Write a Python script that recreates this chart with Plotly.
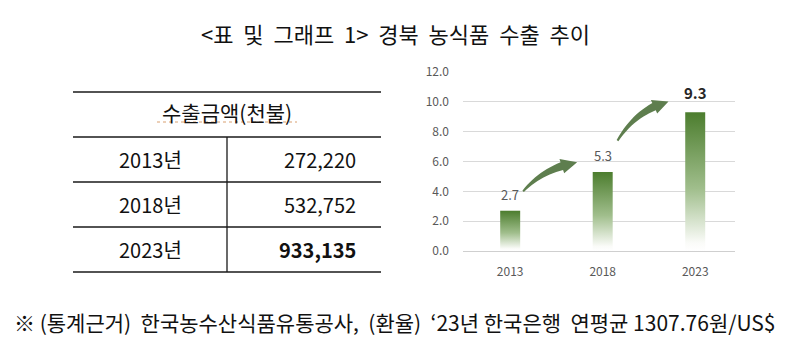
import plotly.graph_objects as go
import numpy as np

# ---------------- data ----------------
title_text = "<표  및  그래프  1>  경북  농식품  수출  추이"
table_header = "수출금액(천불)"
table_years = ["2013년", "2018년", "2023년"]
table_amounts = ["272,220", "532,752", "933,135"]
chart_years = ["2013", "2018", "2023"]
chart_values = [2.7, 5.3, 9.3]
y_ticks = [0, 2, 4, 6, 8, 10, 12]
footnote = "※ (통계근거)  한국농수산식품유통공사,  (환율)  ‘23년 한국은행  연평균 1307.76원/US$"

# ---------------- layout geometry ----------------
W, H = 807, 353
L, R, T, B = 463, 72, 72, 102
PW, PH = W - L - R, H - T - B
FONT = "Noto Sans CJK KR"


def px_x(px):
    return (px - L) / PW


def px_y(py):
    return (H - B - py) / PH


fig = go.Figure()
xpos = list(range(len(chart_years)))
half = 0.108
green_scale = [[0, "rgb(255,255,255)"], [0.06, "rgb(250,251,248)"],
               [0.45, "rgb(160,190,140)"], [1, "rgb(76,125,46)"]]

for i, v in zip(xpos, chart_values):
    fig.add_trace(go.Scatter(
        x=[i - half, i - half, i + half, i + half, i - half],
        y=[0, v, v, 0, 0],
        mode="lines", line=dict(width=0), fill="toself",
        fillgradient=dict(type="vertical", colorscale=green_scale),
        hoverinfo="skip", showlegend=False))

# data labels
for i, v in zip(xpos, chart_values):
    last = i == len(chart_values) - 1
    fig.add_annotation(
        x=i, y=v, xref="x", yref="y", yanchor="bottom", showarrow=False,
        yshift=7 if last else 5,
        text=f"<b>{v:.1f}</b>" if last else f"{v:.1f}",
        font=dict(family=FONT, size=15 if last else 13,
                  color="#262626" if last else "#595959"))


# curved arrows
def arrow_path(dx, dy, th=0.76, w0=1.0, w1=4.0, hw=7.5):
    P0 = np.array([0.0, 0.0]); C = np.array([0.38 * dx, 0.8 * dy]); P1 = np.array([dx, dy])

    def B_(t):
        return (1 - t) ** 2 * P0 + 2 * (1 - t) * t * C + t ** 2 * P1

    def D_(t):
        d = 2 * (1 - t) * (C - P0) + 2 * t * (P1 - C)
        return d / np.linalg.norm(d)

    ts = np.linspace(0, th, 14)
    left, right = [], []
    for t in ts:
        p = B_(t); d = D_(t); n = np.array([-d[1], d[0]])
        w = w0 + (w1 - w0) * (t / th)
        left.append(p + n * w); right.append(p - n * w)
    pb = B_(th); d = D_(th); n = np.array([-d[1], d[0]])
    pts = left + [pb + n * hw, P1, pb - n * hw] + right[::-1]
    return "M " + " L ".join(f"{x:.2f},{y:.2f}" for x, y in pts) + " Z"


arrows = [((0.14, 4.0), (54, 29)), ((1.16, 7.4), (51, 39))]
for (ax_, ay_), (dx, dy) in arrows:
    fig.add_shape(type="path", xref="x", yref="y", xsizemode="pixel", ysizemode="pixel",
                  xanchor=ax_, yanchor=ay_, path=arrow_path(dx, dy),
                  fillcolor="rgb(94,126,78)", line=dict(width=0), layer="above")

# ---------------- table ----------------
tx0, tx1, tmid = 73, 381, 227
row_lines = [92, 137, 182, 227, 272]
for k, yy in enumerate(row_lines):
    fig.add_shape(type="line", xref="paper", yref="paper",
                  x0=px_x(tx0), x1=px_x(tx1), y0=px_y(yy), y1=px_y(yy),
                  line=dict(color="#1a1a1a", width=1.3))
fig.add_shape(type="line", xref="paper", yref="paper",
              x0=px_x(tmid), x1=px_x(tmid), y0=px_y(row_lines[1]), y1=px_y(row_lines[-1]),
              line=dict(color="#1a1a1a", width=1.3))
# spell-check squiggle under header
fig.add_shape(type="line", xref="paper", yref="paper",
              x0=px_x(157), x1=px_x(297), y0=px_y(122), y1=px_y(122),
              line=dict(color="#d9a070", width=1, dash="dot"))
fig.add_annotation(x=px_x((tx0 + tx1) / 2), y=px_y(112), xref="paper", yref="paper",
                   text=table_header, showarrow=False, xanchor="center", yanchor="middle",
                   font=dict(family=FONT, size=21, color="#111"))
for k, (yr, am) in enumerate(zip(table_years, table_amounts)):
    yc = (row_lines[k + 1] + row_lines[k + 2]) / 2
    fig.add_annotation(x=px_x(150), y=px_y(yc), xref="paper", yref="paper",
                       text=yr, showarrow=False, xanchor="center", yanchor="middle",
                       font=dict(family=FONT, size=20, color="#111"))
    fig.add_annotation(x=px_x(358), y=px_y(yc), xref="paper", yref="paper",
                       text=f"<b>{am}</b>" if k == len(table_years) - 1 else am,
                       showarrow=False, xanchor="right", yanchor="middle",
                       font=dict(family=FONT, size=20, color="#111"))

# title and footnote
fig.add_annotation(x=px_x(395), y=px_y(33), xref="paper", yref="paper", text=title_text,
                   showarrow=False, xanchor="center", yanchor="middle",
                   font=dict(family=FONT, size=22, color="#111"))
fig.add_annotation(x=px_x(12), y=px_y(322), xref="paper", yref="paper", text=footnote,
                   showarrow=False, xanchor="left", yanchor="middle",
                   font=dict(family=FONT, size=21, color="#111"))

fig.update_layout(
    width=W, height=H, margin=dict(l=L, r=R, t=T, b=B),
    paper_bgcolor="white", plot_bgcolor="white", showlegend=False,
    xaxis=dict(range=[-0.51, 2.43], tickvals=xpos, ticktext=chart_years,
               showgrid=False, zeroline=False, showline=False, ticks="",
               ticklabelstandoff=12,
               tickfont=dict(family=FONT, size=12, color="#595959")),
    yaxis=dict(range=[0, 12], tickvals=y_ticks, tickformat=".1f",
               showgrid=True, gridcolor="#d9d9d9", gridwidth=1,
               zeroline=True, zerolinecolor="#cfcfcf", zerolinewidth=1,
               showline=False, ticks="", ticklabelstandoff=13,
               tickfont=dict(family=FONT, size=12, color="#595959")),
)

fig.write_html("out.html")
